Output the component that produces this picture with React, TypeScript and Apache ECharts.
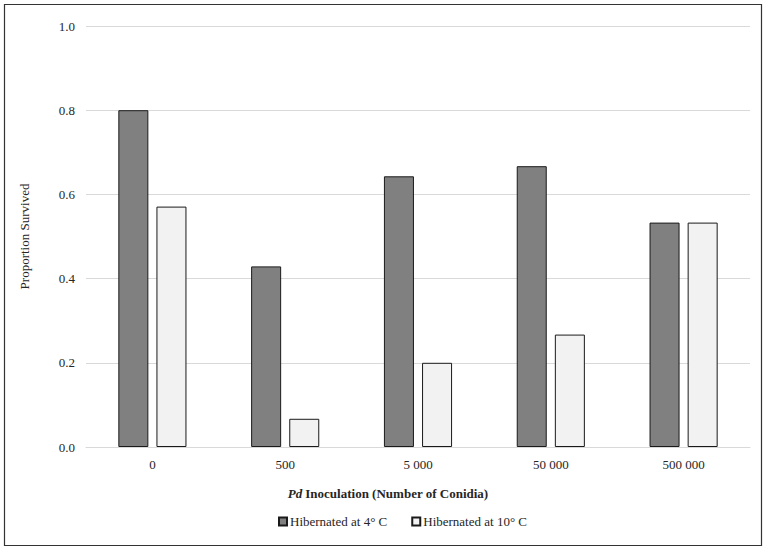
import React, { useEffect, useRef } from "react";
import * as echarts from "echarts";

const categories = ["0", "500", "5 000", "50 000", "500 000"];
const series4C = [0.8, 0.429, 0.643, 0.667, 0.533];
const series10C = [0.571, 0.067, 0.2, 0.267, 0.533];
const seriesNames = ["Hibernated at 4° C", "Hibernated at 10° C"];

const FONT = "'Liberation Serif', 'Times New Roman', Times, serif";
const TEXT = "#262626";

export default function App() {
  const ref = useRef<HTMLDivElement>(null);
  useEffect(() => {
    if (!ref.current) return;
    const chart = echarts.init(ref.current, undefined, { renderer: "svg" });
    chart.setOption({
      animation: false,
      backgroundColor: "#ffffff",
      textStyle: { fontFamily: FONT },
      graphic: [
        {
          type: "rect",
          shape: { x: 4.5, y: 4.5, width: 757, height: 541 },
          style: { fill: "none", stroke: "#333333", lineWidth: 1.2 },
          silent: true,
        },
      ],
      grid: { left: 86, right: 20, top: 26, bottom: 105, containLabel: false },
      legend: {
        bottom: 19,
        left: 273,
        itemWidth: 8,
        itemHeight: 8,
        itemGap: 24,
        icon: "rect",
        textStyle: { fontFamily: FONT, fontSize: 13, color: TEXT, padding: [0, 0, 0, -2] },
        data: seriesNames,
      },
      xAxis: {
        type: "category",
        data: categories,
        name: "{i|Pd} {b|Inoculation (Number of Conidia)}",
        nameLocation: "middle",
        nameGap: 40,
        nameTextStyle: {
          padding: [0, 60, 0, 0],
          rich: {
            i: { fontFamily: FONT, fontSize: 13, fontWeight: "bold", fontStyle: "italic", color: TEXT },
            b: { fontFamily: FONT, fontSize: 13, fontWeight: "bold", color: TEXT },
          },
        },
        axisLine: { lineStyle: { color: "#d9d9d9" } },
        axisTick: { show: false },
        axisLabel: { fontFamily: FONT, fontSize: 13, color: TEXT, margin: 11 },
      },
      yAxis: {
        type: "value",
        min: 0,
        max: 1,
        interval: 0.2,
        name: "Proportion Survived",
        nameLocation: "middle",
        nameGap: 55,
        nameTextStyle: { fontFamily: FONT, fontSize: 13, color: TEXT },
        axisLine: { show: false },
        axisTick: { show: false },
        axisLabel: {
          fontFamily: FONT,
          fontSize: 13,
          color: TEXT,
          margin: 11,
          formatter: (v: number) => v.toFixed(1),
        },
        splitLine: { lineStyle: { color: "#d9d9d9" } },
      },
      series: [
        {
          name: seriesNames[0],
          type: "bar",
          data: series4C,
          barWidth: "22.6%",
          barGap: "27%",
          itemStyle: { color: "#808080", borderColor: "#1a1a1a", borderWidth: 1 },
        },
        {
          name: seriesNames[1],
          type: "bar",
          data: series10C,
          barWidth: "22.6%",
          itemStyle: { color: "#f2f2f2", borderColor: "#1a1a1a", borderWidth: 1 },
        },
      ],
    });
    return () => chart.dispose();
  }, []);
  return (
    <div
      ref={ref}
      style={{ position: "fixed", left: 0, top: 0, width: 770, height: 552 }}
    />
  );
}
